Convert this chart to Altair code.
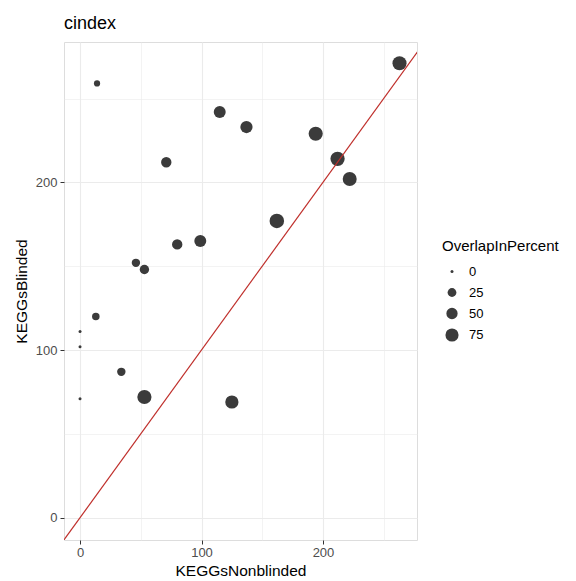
import altair as alt
import pandas as pd

# Data
kegg_nonblinded = [14, 115, 137, 71, 194, 212, 222, 263, 162, 99, 80, 46, 53, 13, 0, 0, 0, 34, 53, 125]
kegg_blinded = [259, 242, 233, 212, 229, 214, 202, 271, 177, 165, 163, 152, 148, 120, 111, 102, 71, 87, 72, 69]
overlap_pct = [9, 58, 62, 40, 91, 93, 88, 90, 98, 58, 40, 22, 30, 16, 0, 0, 0, 22, 91, 76]

x_domain = [-13.2, 277.4]
y_domain = [-13.3, 283.7]
grid_values = [0, 50, 100, 150, 200, 250]
legend_values = [0, 25, 50, 75]
diag = [-20, 300]

FONT = "Liberation Sans"

df = pd.DataFrame({
    "KEGGsNonblinded": kegg_nonblinded,
    "KEGGsBlinded": kegg_blinded,
    "OverlapInPercent": overlap_pct,
})
line_df = pd.DataFrame({"a": diag, "b": diag})

def axis(title, **kw):
    return alt.Axis(
        title=title,
        values=grid_values,
        labelExpr="datum.value % 100 === 0 ? datum.label : ''",
        tickOpacity={"condition": {"test": "datum.value % 100 !== 0", "value": 0}, "value": 1},
        gridWidth={"condition": {"test": "datum.value % 100 !== 0", "value": 0.6}, "value": 1.1},
        gridColor="#ebebeb",
        domain=False,
        tickColor="#333333",
        tickSize=4,
        tickWidth=1,
        labelColor="#4d4d4d",
        labelFont=FONT,
        labelFontSize=13,
        titleFont=FONT,
        titleFontSize=15.5,
        titleFontWeight="normal",
        titleColor="#000000",
        **kw,
    )

xs = alt.Scale(domain=x_domain, nice=False, zero=False)
ys = alt.Scale(domain=y_domain, nice=False, zero=False)

points = alt.Chart(df).mark_circle(opacity=1, color="#3b3b3b").encode(
    x=alt.X("KEGGsNonblinded:Q", scale=xs, axis=axis("KEGGsNonblinded", labelPadding=2, titlePadding=4)),
    y=alt.Y("KEGGsBlinded:Q", scale=ys, axis=axis("KEGGsBlinded", labelPadding=3, titlePadding=6)),
    size=alt.Size(
        "OverlapInPercent:Q",
        scale=alt.Scale(type="pow", exponent=0.8, domain=[0, 100], range=[9, 215]),
        legend=alt.Legend(
            values=legend_values,
            orient="none",
            legendX=378,
            legendY=197,
            padding=0,
            titleFont=FONT,
            titleFontSize=15,
            titleFontWeight="normal",
            titleColor="#000000",
            titlePadding=11,
            labelFont=FONT,
            labelFontSize=13,
            labelColor="#000000",
            labelOffset=10,
            symbolOffset=3,
            symbolType="circle",
            symbolFillColor="#3b3b3b",
            symbolStrokeWidth=0,
            symbolOpacity=1,
            rowPadding=7,
        ),
    ),
)

line = alt.Chart(line_df).mark_line(color="#bf2f2b", strokeWidth=1.2, clip=True).encode(
    x=alt.X("a:Q", scale=xs),
    y=alt.Y("b:Q", scale=ys),
)

chart = alt.layer(points, line).properties(
    width=353,
    height=498,
    title=alt.TitleParams("cindex", anchor="start", font=FONT, fontSize=18,
                          fontWeight="normal", color="#000000", offset=9, frame="group"),
    autosize=alt.AutoSizeParams(type="none"),
    padding={"left": 64, "top": 42, "right": 159, "bottom": 41},
).configure_view(stroke="#333333", strokeWidth=1.1).configure(background="white")

chart.save("out.html", embed_options={"renderer": "svg", "actions": False})
